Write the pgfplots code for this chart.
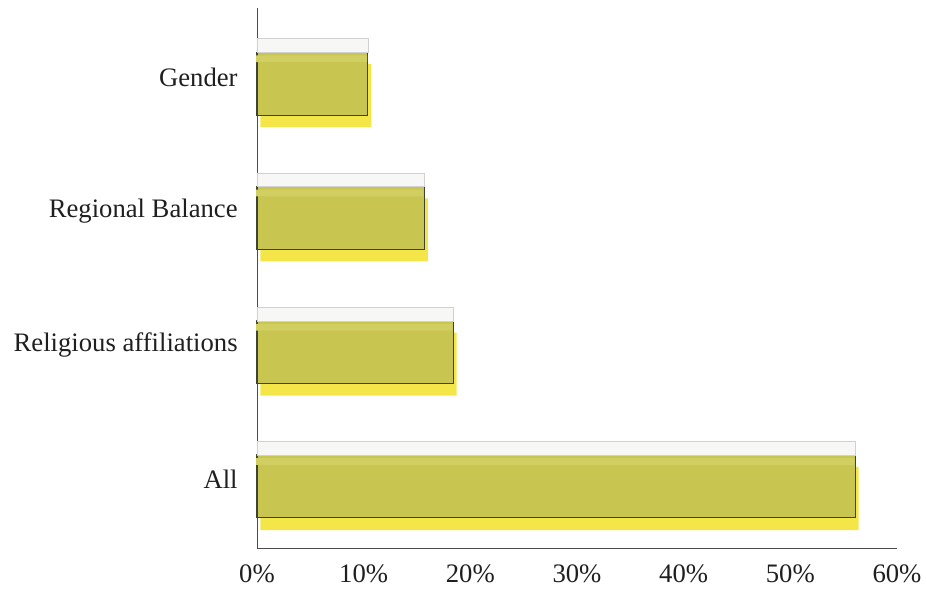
\documentclass[border=0pt]{standalone}
\usepackage{pgfplots}
\pgfplotsset{compat=1.18}
\usepackage{fontspec}
\setmainfont{Liberation Serif}

\definecolor{body}{RGB}{200,197,80}
\definecolor{bodyhi}{RGB}{209,206,98}
\definecolor{shade}{RGB}{244,230,72}
\definecolor{lid}{RGB}{247,247,245}
\definecolor{edge}{RGB}{62,66,52}

% share of each category, in percent (All, Religious affiliations, Regional Balance, Gender)
\pgfplotstableread{
pos val
0 56.1
1 18.4
2 15.7
3 10.4
}\shares

\begin{document}
\begin{tikzpicture}
\begin{axis}[
  scale only axis,
  width=480pt, height=405pt,
  xmin=0, xmax=60,
  ymin=-0.459, ymax=3.563,
  axis x line=bottom, axis y line=left,
  axis line style={-, line width=0.6pt, draw=black!70},
  xtick={0,10,...,60},
  xticklabels={0\%,10\%,20\%,30\%,40\%,50\%,60\%},
  ytick={0,1,2,3},
  yticklabels={All,Religious affiliations,Regional Balance,Gender},
  major tick length=0pt,
  /pgf/number format/assume math mode=true,
  ticklabel style={font=\fontsize{20}{24}\selectfont, text=black!88},
  xticklabel style={yshift=-9pt},
  yticklabel style={xshift=-11pt, yshift=5pt},
  xbar, bar width=0.47,
  clip=false,
]
  % offset yellow shadow behind each bar
  \addplot[xbar, bar shift=-0.09, fill=shade, draw=none, xshift=2.5pt] table[x=val,y=pos]{\shares};
  % main face
  \addplot[xbar, bar shift=0, fill=body, draw=edge, line width=0.8pt] table[x=val,y=pos]{\shares};
  % slightly lighter strip just under the top of the face
  \addplot[xbar, bar width=0.05, bar shift=0.185, fill=bodyhi, draw=none, xshift=-0.6pt] table[x=val,y=pos]{\shares};
  % light top face, covering the upper edge of the main face
  \addplot[xbar, bar width=0.102, bar shift=0.2835, fill=lid, draw=black!18, line width=0.4pt] table[x=val,y=pos]{\shares};
  \coordinate (sw) at (rel axis cs:0,0);
  \coordinate (ne) at (rel axis cs:1,1);
\end{axis}
\pgfresetboundingbox
\path[use as bounding box] ([shift={(-192.75pt,-36pt)}]sw) rectangle ([shift={(22.5pt,6pt)}]ne);
\end{tikzpicture}
\end{document}
